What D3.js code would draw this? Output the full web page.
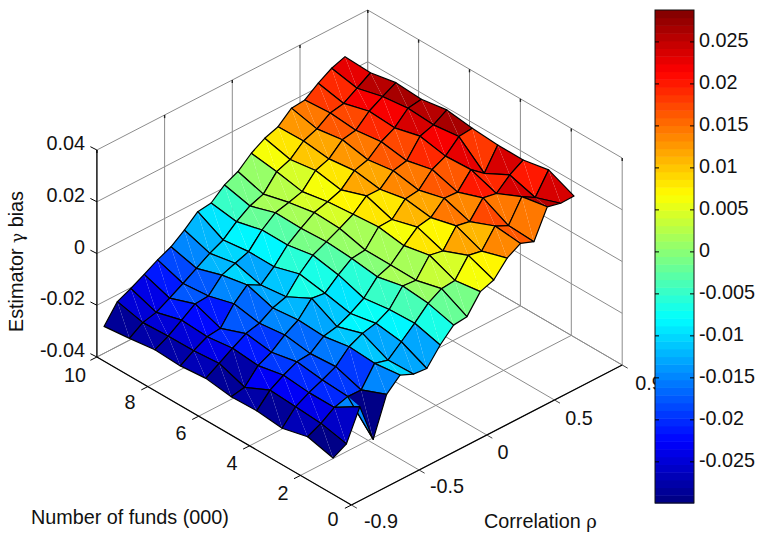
<!DOCTYPE html>
<html>
<head>
<meta charset="utf-8">
<script src="https://cdn.jsdelivr.net/npm/d3@7"></script>
<style>
  body { margin: 0; background: #fff; }
  text { font-family: "Liberation Sans", Arial, sans-serif; fill: #111; }
</style>
</head>
<body>
<svg id="chart" width="760" height="540"></svg>
<script>
// values
let rhoValues = [-0.9,-0.8,-0.7,-0.6,-0.5,-0.4,-0.3,-0.2,-0.1,0,0.1,0.2,0.3,0.4,0.5,0.6,0.7,0.8,0.9];
let fundCounts = [1,2,3,4,5,6,7,8,9,10];

let biasN1 = [-.0290,-.0262,-.0145,-.0298,-.0151,-.0103,-.0126,-.0131,-.0067,-.0017,-.0011,.0059,.0077,.0135,.0165,.0145,.0253,.0240,.0241];
let biasN2 = [-.0265,-.0240,-.0205,-.0190,-.0191,-.0115,-.0129,-.0085,-.0040,.0010,.0040,.0045,.0115,.0105,.0175,.0150,.0235,.0205,.0285];
let biasN3 = [-.0289,-.0233,-.0205,-.0183,-.0158,-.0108,-.0083,-.0071,-.0044,.0020,.0015,.0085,.0075,.0145,.0135,.0200,.0190,.0235,.0266];
let biasN4 = [-.0279,-.0226,-.0195,-.0170,-.0165,-.0125,-.0114,-.0090,-.0058,-.0002,.0017,.0065,.0110,.0120,.0168,.0165,.0225,.0184,.0267];
let biasN5 = [-.0282,-.0272,-.0215,-.0190,-.0150,-.0119,-.0062,-.0069,-.0025,.0012,.0018,.0080,.0082,.0135,.0142,.0195,.0220,.0269,.0274];
let biasN6 = [-.0268,-.0237,-.0205,-.0175,-.0162,-.0130,-.0113,-.0052,-.0006,.0019,.0044,.0072,.0116,.0115,.0160,.0172,.0240,.0257,.0288];
let biasN7 = [-.0277,-.0245,-.0218,-.0212,-.0144,-.0098,-.0125,-.0081,-.0024,.0014,.0048,.0063,.0082,.0130,.0145,.0188,.0215,.0264,.0272];
let biasN8 = [-.0272,-.0246,-.0211,-.0175,-.0171,-.0117,-.0098,-.0080,-.0023,.0017,.0030,.0045,.0100,.0118,.0165,.0175,.0222,.0252,.0279];
let biasN9 = [-.0285,-.0251,-.0238,-.0210,-.0180,-.0148,-.0117,-.0092,-.0048,-.0014,.0005,.0065,.0085,.0130,.0150,.0185,.0195,.0227,.0260];
let biasN10 = [-.0296,-.0227,-.0203,-.0175,-.0146,-.0122,-.0084,-.0040,-.0033,.0010,.0035,.0079,.0110,.0128,.0173,.0178,.0216,.0247,.0265];
let biasRows = [biasN1,biasN2,biasN3,biasN4,biasN5,biasN6,biasN7,biasN8,biasN9,biasN10];

let rhoTicks = [-0.9,-0.5,0,0.5,0.9];
let rhoTickPos = [0,1,2,3,4];
let fundTicks = [0,2,4,6,8,10];
let zTicks = [-0.04,-0.02,0,0.02,0.04];
let barTicks = [-0.025,-0.02,-0.015,-0.01,-0.005,0,0.005,0.01,0.015,0.02,0.025];

let svg = d3.select('#chart');

// box corners on the page: origin is funds=0 rho=-0.9 on the floor
let origin = [351.4, 505];
let rhoVec = [67.7, -35];
let fundVec = [-50.9, -29.6];
let zVec = [0, -207];

// scales give the position along each box edge (in box units)
let rhoPos = d3.scaleLinear().domain([-0.9, 0.9]).range([0.105, 3.665]);
let fundPos = d3.scaleLinear().domain([0, 10]).range([0, 5]);
let zPos = d3.scaleLinear().domain([-0.04, 0.04]).range([0, 1]);

// u, v, w are box units
let project = (u, v, w) => {
  return [
    origin[0] + u * rhoVec[0] + v * fundVec[0] + w * zVec[0],
    origin[1] + u * rhoVec[1] + v * fundVec[1] + w * zVec[1]
  ];
};

// jet colormap, 64 steps like the colorbar
let clamp01 = (a) => Math.max(0, Math.min(1, a));
let jetColors = d3.range(64).map((k) => {
  let t = (k + 0.5) / 64;
  let r = clamp01(1.5 - Math.abs(4 * t - 3));
  let g = clamp01(1.5 - Math.abs(4 * t - 2));
  let b = clamp01(1.5 - Math.abs(4 * t - 1));
  return d3.rgb(r * 255, g * 255, b * 255).formatHex();
});
let colorMin = -0.0299, colorMax = 0.0288;
let color = d3.scaleQuantize().domain([colorMin, colorMax]).range(jetColors);

let line = (a, b, stroke, width) => {
  svg.append('line')
    .attr('x1', a[0]).attr('y1', a[1])
    .attr('x2', b[0]).attr('y2', b[1])
    .attr('stroke', stroke)
    .attr('stroke-width', width);
};

let gridGray = '#8c8c8c';

// walls and floor grid
zTicks.forEach((z) => {
  let w = zPos(z);
  line(project(0, 5, w), project(4, 5, w), gridGray, 1);
  line(project(4, 5, w), project(4, 0, w), gridGray, 1);
});
rhoTickPos.forEach((u) => {
  line(project(u, 0, 0), project(u, 5, 0), gridGray, 1);
  line(project(u, 5, 0), project(u, 5, 1), gridGray, 1);
  line(project(u, 5, 1), project(u, 5, 0.985), '#222', 1.4);
});
fundTicks.forEach((n) => {
  let v = fundPos(n);
  line(project(0, v, 0), project(4, v, 0), gridGray, 1);
  line(project(4, v, 0), project(4, v, 1), gridGray, 1);
  line(project(4, v, 1), project(4, v, 0.985), '#222', 1.4);
});

// front axes
line(project(0, 0, 0), project(0, 5, 0), '#000', 1.2);
line(project(0, 0, 0), project(4, 0, 0), '#000', 1.2);
line(project(0, 5, 0), project(0, 5, 1), '#000', 1.2);

// ticks
zTicks.forEach((z) => {
  let p = project(0, 5, zPos(z));
  line(p, [p[0] - 6.5, p[1] - 3.3], '#000', 1);
});
fundTicks.forEach((n) => {
  let p = project(0, fundPos(n), 0);
  line(p, [p[0] - 6.5, p[1] + 3.3], '#000', 1);
});
rhoTickPos.forEach((u) => {
  let p = project(u, 0, 0);
  line(p, [p[0] + 5.5, p[1] + 3.2], '#444', 1);
});

// surface, back to front
let facets = [];
d3.range(fundCounts.length - 2, -1, -1).forEach((j) => {
  d3.range(rhoValues.length - 2, -1, -1).forEach((i) => {
    let corner = (a, b) => project(rhoPos(rhoValues[a]), fundPos(fundCounts[b]), zPos(biasRows[b][a]));
    facets.push({
      pts: [corner(i, j), corner(i + 1, j), corner(i + 1, j + 1), corner(i, j + 1)],
      value: biasRows[j][i]
    });
  });
});

let facetGroup = svg.append('g');
facets.forEach((f) => {
  let c = color(f.value);
  // two triangles, the seam between them shows faintly like in the export
  facetGroup.append('polygon')
    .attr('points', [f.pts[0], f.pts[1], f.pts[2]].join(' '))
    .attr('fill', c);
  facetGroup.append('polygon')
    .attr('points', [f.pts[0], f.pts[2], f.pts[3]].join(' '))
    .attr('fill', c);
  facetGroup.append('polygon')
    .attr('points', f.pts.join(' '))
    .attr('fill', 'none')
    .attr('stroke', '#000')
    .attr('stroke-width', 1.2)
    .attr('stroke-linejoin', 'round');
});

// tick labels
let fontSize = 19.8;
let label = (x, y, txt, anchor) => {
  return svg.append('text')
    .attr('x', x).attr('y', y)
    .attr('text-anchor', anchor || 'middle')
    .attr('dominant-baseline', 'middle')
    .attr('font-size', fontSize)
    .text(txt);
};
zTicks.forEach((z, k) => {
  let p = project(0, 5, zPos(z));
  label(85, p[1] - 5, z === 0 ? '0' : String(z), 'end');
});
let fundLabelPos = [[333, 521], [283, 495], [232, 465], [181, 435], [130, 404], [75, 377]];
fundTicks.forEach((n, k) => {
  label(fundLabelPos[k][0], fundLabelPos[k][1], String(n));
});
let rhoLabelPos = [[381, 523], [447, 488], [503, 454], [579, 420], [649, 385]];
rhoTicks.forEach((r, k) => {
  label(rhoLabelPos[k][0], rhoLabelPos[k][1], String(r));
});

// axis titles
label(31, 519, 'Number of funds (000)', 'start');
let rhoTitle = label(484, 523, 'Correlation ', 'start');
rhoTitle.append('tspan').attr('font-family', 'DejaVu Serif').attr('font-size', 18).text('\u03c1');
let zTitle = svg.append('text')
  .attr('transform', 'translate(18,332) rotate(-90)')
  .attr('dominant-baseline', 'middle')
  .attr('font-size', 19.8);
zTitle.append('tspan').text('Estimator ');
zTitle.append('tspan').attr('font-family', 'DejaVu Serif').attr('font-size', 17).text('\u03b3');
zTitle.append('tspan').text('  bias');

// colorbar
let barX = 655, barW = 39, barTop = 10, barBottom = 503;
let barY = d3.scaleLinear().domain([colorMin, colorMax]).range([barBottom, barTop]);
let barAxis = svg.append('g');
barAxis.append('rect')
  .attr('x', barX).attr('y', barTop)
  .attr('width', barW).attr('height', barBottom - barTop)
  .attr('fill', '#fff');
jetColors.forEach((c, k) => {
  let step = (colorMax - colorMin) / 64;
  let y1 = barY(colorMin + k * step), y0 = barY(colorMin + (k + 1) * step);
  barAxis.append('rect')
    .attr('x', barX).attr('y', y0)
    .attr('width', barW).attr('height', y1 - y0 + 0.5)
    .attr('fill', c);
});
barAxis.append('rect')
  .attr('x', barX).attr('y', barTop)
  .attr('width', barW).attr('height', barBottom - barTop)
  .attr('fill', 'none')
  .attr('stroke', '#111')
  .attr('stroke-width', 1);
barTicks.forEach((t) => {
  let y = barY(t);
  line([barX, y], [barX + 4, y], '#000', 1);
  line([barX + barW - 4, y], [barX + barW, y], '#000', 1);
  label(barX + barW + 5, y, t === 0 ? '0' : String(t), 'start');
});
</script>
</body>
</html>
